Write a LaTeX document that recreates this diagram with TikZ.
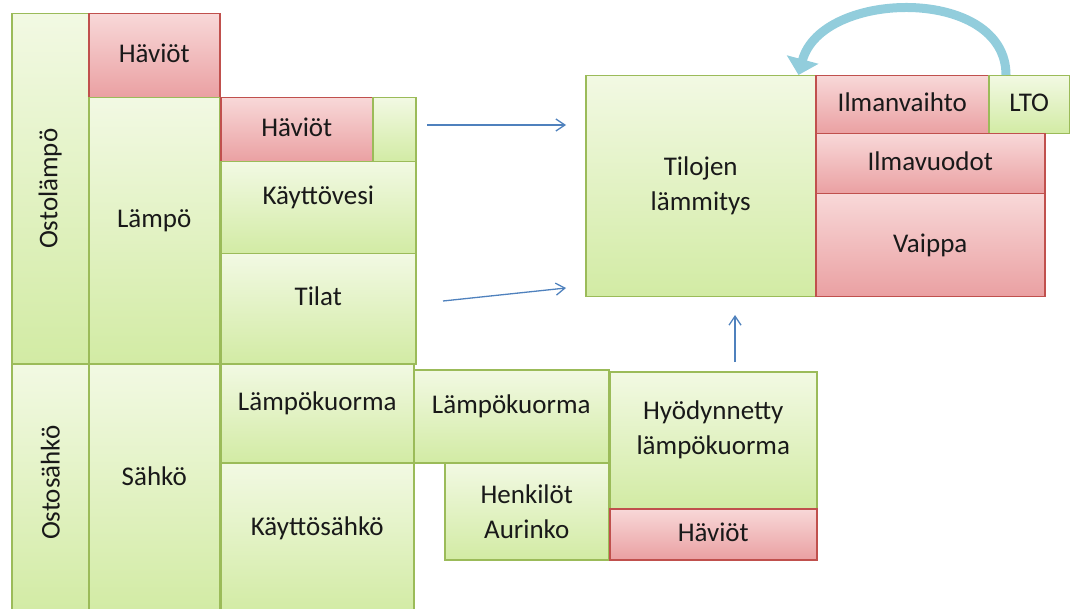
\documentclass[tikz,border=0pt]{standalone}
\usepackage{fontspec}
\setmainfont{Carlito}
\usetikzlibrary{arrows.meta}

\definecolor{gtop}{HTML}{F2F9E3}
\definecolor{gbot}{HTML}{D2EBA4}
\definecolor{gline}{HTML}{9BBB59}
\definecolor{rtop}{HTML}{F8D8D8}
\definecolor{rbot}{HTML}{EAA0A2}
\definecolor{rline}{HTML}{C0504D}
\definecolor{arrowblue}{HTML}{4F81BD}
\definecolor{ltoblue}{HTML}{92CDDC}

\begin{document}
\begin{tikzpicture}[x=1pt,y=-1pt]
	\tikzstyle{box_base} = [rectangle, anchor=north west, inner sep=0pt, line width=1.5pt, align=center, text=black!90, font=\fontsize{27}{35}\selectfont]
	\tikzstyle{box_green} = [box_base, draw=gline, top color=gtop, bottom color=gbot]
	\tikzstyle{box_red} = [box_base, draw=rline, top color=rtop, bottom color=rbot]
	\tikzstyle{one_line} = [text height=19pt, text depth=5pt]
	\tikzstyle{text_up} = [text depth=25pt]
	\tikzstyle{flow} = [draw=arrowblue, line width=1.3pt, -{Straight Barb[length=9pt,width=12pt]}]

	\useasboundingbox (0,0) rectangle (1070,609);

%------------------------------------------------------------
	\node[box_green, minimum width=77, minimum height=350] (osto_lampo) at (11,13) {\rotatebox{90}{Ostolämpö}};
	\node[box_red, one_line, minimum width=131, minimum height=84] (haviot_1) at (88,13) {Häviöt};
	\node[box_green, one_line, text_up, minimum width=131, minimum height=266] (lampo) at (88,97) {Lämpö};

	\node[box_red, one_line, minimum width=152, minimum height=64] (haviot_2) at (220,97) {Häviöt};
	\node[box_green, minimum width=43, minimum height=64] (haviot_2b) at (372,97) {};
	\node[box_green, one_line, text_up, minimum width=195, minimum height=92] (kayttovesi) at (220,161) {Käyttövesi};
	\node[box_green, one_line, text_up, minimum width=195, minimum height=110] (tilat) at (220,253) {Tilat};

%------------------------------------------------------------
	\node[box_green, text depth=12pt, minimum width=77, minimum height=250] (osto_sahko) at (11,363) {\rotatebox{90}{Ostosähkö}};
	\node[box_green, one_line, text_up, minimum width=131, minimum height=250] (sahko) at (88,363) {Sähkö};
	\node[box_green, one_line, text_up, minimum width=193, minimum height=99] (kuorma_1) at (220,363) {Lämpökuorma};
	\node[box_green, one_line, text_up, minimum width=193, minimum height=151] (kayttosahko) at (220,462) {Käyttösähkö};

%------------------------------------------------------------
	\node[box_green, one_line, text_up, minimum width=195, minimum height=93] (kuorma_2) at (413,369) {Lämpökuorma};
	\node[box_green, minimum width=164, minimum height=97] (henkilot) at (444,462) {Henkilöt\\Aurinko};
	\node[box_green, text_up, minimum width=207, minimum height=137] (hyodynnetty) at (609,371) {Hyödynnetty\\lämpökuorma};
	\node[box_red, one_line, minimum width=207, minimum height=51] (haviot_3) at (609,508) {Häviöt};

%------------------------------------------------------------
	\node[box_green, minimum width=230, minimum height=221] (tilojen) at (585,75) {Tilojen\\lämmitys};
	\node[box_red, one_line, minimum width=173, minimum height=58] (ilmanvaihto) at (815,75) {Ilmanvaihto};
	\node[box_green, one_line, minimum width=81, minimum height=58] (lto) at (988,75) {LTO};
	\node[box_red, one_line, minimum width=229, minimum height=60] (ilmavuodot) at (815,133) {Ilmavuodot};
	\node[box_red, one_line, minimum width=229, minimum height=103] (vaippa) at (815,193) {Vaippa};

%------------------------------------------------------------
	\coordinate (a1_start) at (427,125);
	\coordinate (a1_end) at (566,125);
	\coordinate (a2_start) at (443,301);
	\coordinate (a2_end) at (566,288);
	\coordinate (a3_start) at (735,362);
	\coordinate (a3_end) at (735,315);

	\draw[flow] (a1_start) -- (a1_end);
	\draw[flow] (a2_start) -- (a2_end);
	\draw[flow] (a3_start) -- (a3_end);

	\draw[ltoblue, line width=9pt, -{Triangle[length=16pt,width=32pt]}] ([xshift=18pt]lto.north west) to[out=90,in=75,looseness=1.1] ([xshift=-18pt]tilojen.north east);

\end{tikzpicture}
\end{document}
